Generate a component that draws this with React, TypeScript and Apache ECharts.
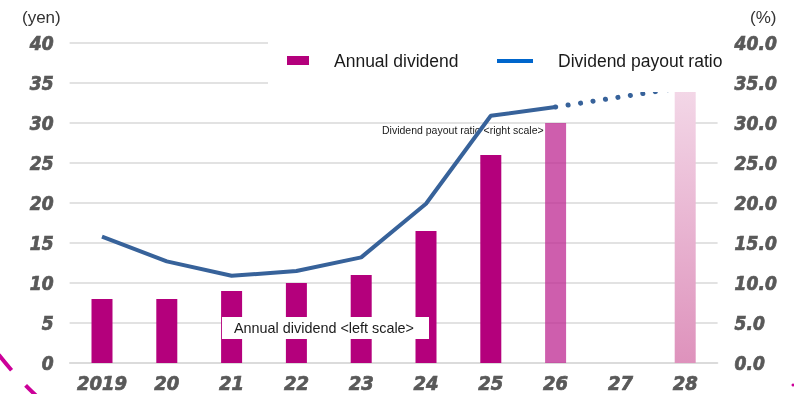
import React, { useEffect, useRef } from "react";
import * as echarts from "echarts";

const categories = ["2019", "20", "21", "22", "23", "24", "25", "26", "27", "28"];
const dividend = [8, 8, 9, 10, 11, 16.5, 26, 30, null, 34];
const payoutActual = [15.8, 12.7, 10.9, 11.5, 13.2, 19.9, 30.9, 32, null, null];
const payoutForecast = [null, null, null, null, null, null, null, 32, 33.25, 34.5];
const leftTicks = { min: 0, max: 40, interval: 5 };
const rightTicks = { min: 0, max: 40, interval: 5 };

const MAGENTA = "#b4007c";
const LINE = "#37629a";
const TICK_FONT = "'DejaVu Sans Condensed', 'DejaVu Sans', sans-serif";
const TEXT_FONT = "'Liberation Sans', Arial, sans-serif";

export default function App() {
  const ref = useRef<HTMLDivElement>(null);
  useEffect(() => {
    if (!ref.current) return;
    const chart = echarts.init(ref.current, undefined, { renderer: "svg" });
    const tickLabel = {
      color: "#595959",
      fontFamily: TICK_FONT,
      fontWeight: "bold" as const,
      fontStyle: "italic" as const,
      fontSize: 19,
      textBorderColor: "#595959",
      textBorderWidth: 0.7,
    };
    const barData = dividend.map((v, i) => {
      if (v === null) return null;
      if (i === 7) return { value: v, itemStyle: { color: "rgba(190,40,145,0.75)" } };
      if (i === 9)
        return {
          value: v,
          itemStyle: {
            color: new echarts.graphic.LinearGradient(0, 0, 0, 1, [
              { offset: 0, color: "#f3d7e7" },
              { offset: 1, color: "#de92bc" },
            ]),
          },
        };
      return v;
    });
    chart.setOption({
      animation: false,
      grid: { left: 69.6, right: 76.4, top: 43, bottom: 31, containLabel: false },
      xAxis: {
        type: "category",
        data: categories,
        axisLine: { show: true, lineStyle: { color: "#d9d9d9", width: 1.5 } },
        axisTick: { show: false },
        axisLabel: { ...tickLabel, fontSize: 20, margin: 10, interval: 0 },
      },
      yAxis: [
        {
          type: "value",
          ...leftTicks,
          axisLine: { show: false },
          axisTick: { show: false },
          splitLine: { lineStyle: { color: "#d9d9d9", width: 1.5 } },
          axisLabel: { ...tickLabel, margin: 16 },
        },
        {
          type: "value",
          ...rightTicks,
          position: "right",
          axisLine: { show: false },
          axisTick: { show: false },
          splitLine: { show: false },
          axisLabel: { ...tickLabel, margin: 17, formatter: (v: number) => v.toFixed(1) },
        },
      ],
      series: [
        {
          name: "Annual dividend",
          type: "bar",
          data: barData,
          barWidth: 21,
          itemStyle: { color: MAGENTA },
          z: 2,
        },
        {
          name: "Dividend payout ratio",
          type: "line",
          yAxisIndex: 1,
          data: payoutActual,
          showSymbol: false,
          symbol: "none",
          lineStyle: { color: LINE, width: 4 },
          z: 3,
        },
        {
          name: "Dividend payout ratio forecast",
          type: "line",
          yAxisIndex: 1,
          data: payoutForecast,
          showSymbol: false,
          symbol: "none",
          lineStyle: { color: LINE, width: 5, type: [0.1, 12.5], cap: "round" },
          z: 3,
        },
      ],
      graphic: [
        // legend background box
        { type: "rect", z: 100, shape: { x: 268, y: 30, width: 460, height: 62 }, style: { fill: "#ffffff" } },
        { type: "rect", z: 101, shape: { x: 287, y: 56, width: 22, height: 9 }, style: { fill: MAGENTA } },
        {
          type: "text", z: 101, x: 334, y: 61,
          style: { text: "Annual dividend", fill: "#1a1a1a", font: `17.5px ${TEXT_FONT}`, verticalAlign: "middle" },
        },
        { type: "rect", z: 101, shape: { x: 497, y: 59, width: 36, height: 4 }, style: { fill: "#0066cc" } },
        {
          type: "text", z: 101, x: 558, y: 61,
          style: { text: "Dividend payout ratio", fill: "#1a1a1a", font: `17.5px ${TEXT_FONT}`, verticalAlign: "middle" },
        },
        // axis units
        {
          type: "text", z: 101, x: 22, y: 17,
          style: { text: "(yen)", fill: "#333333", font: `17px ${TEXT_FONT}`, verticalAlign: "middle" },
        },
        {
          type: "text", z: 101, x: 750, y: 17,
          style: { text: "(%)", fill: "#333333", font: `17px ${TEXT_FONT}`, verticalAlign: "middle" },
        },
        // annotation for payout ratio (under the line)
        {
          type: "text", z: 0, x: 382, y: 130,
          style: { text: "Dividend payout ratio <right scale>", fill: "#1a1a1a", font: `10.5px ${TEXT_FONT}`, verticalAlign: "middle" },
        },
        // annotation box for dividend
        { type: "rect", z: 100, shape: { x: 222, y: 317, width: 207, height: 22 }, style: { fill: "#ffffff" } },
        {
          type: "text", z: 101, x: 234, y: 328,
          style: { text: "Annual dividend <left scale>", fill: "#1a1a1a", font: `14.4px ${TEXT_FONT}`, verticalAlign: "middle" },
        },
        // decorative dashed arc bottom-left
        {
          type: "arc", z: 101,
          shape: { cx: 294, cy: 122, r: 376, startAngle: (125 * Math.PI) / 180, endAngle: (150 * Math.PI) / 180, clockwise: true },
          style: { stroke: "#cc0099", lineWidth: 4, fill: "none", lineDash: [20, 20.6], lineDashOffset: 32.1 },
        },
        { type: "circle", z: 101, shape: { cx: 793, cy: 385, r: 1.5 }, style: { fill: "#cc0099" } },
      ],
    });
    return () => chart.dispose();
  }, []);
  return <div ref={ref} style={{ position: "fixed", left: 0, top: 0, width: 794, height: 394 }} />;
}
